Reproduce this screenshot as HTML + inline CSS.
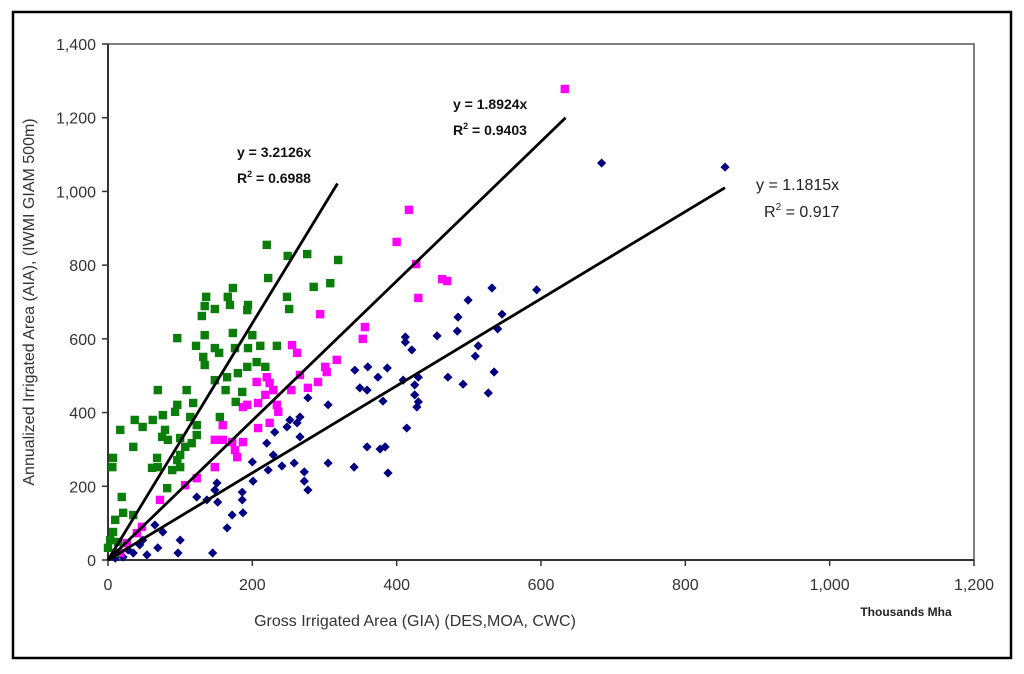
<!DOCTYPE html>
<html><head><meta charset="utf-8"><style>
html,body{margin:0;padding:0;background:#fff;}
svg{display:block;font-family:"Liberation Sans",Arial,sans-serif;}
</style></head><body>
<svg id="chart" width="1024" height="674" viewBox="0 0 1024 674">
<rect x="13" y="12" width="998" height="646" fill="#fff" stroke="#000" stroke-width="2.5"/>
<g id="grid"></g>
<g id="marks"></g>
<g id="lines"></g>
<text x="34" y="302" transform="rotate(-90 34 302)" text-anchor="middle" font-size="16" fill="#333">Annualized Irrigated Area (AIA), (IWMI GIAM 500m)</text>
<text x="415" y="626" text-anchor="middle" font-size="16" fill="#333">Gross Irrigated Area (GIA) (DES,MOA, CWC)</text>
<text x="906" y="616" text-anchor="middle" font-size="12" font-weight="bold" fill="#222">Thousands Mha</text>
<g font-size="14" font-weight="bold" fill="#111">
<text x="237" y="157">y = 3.2126x</text>
<text x="237" y="183">R<tspan font-size="9" dy="-6">2</tspan><tspan dy="6"> = 0.6988</tspan></text>
</g>
<g font-size="14" font-weight="bold" fill="#111">
<text x="453" y="109">y = 1.8924x</text>
<text x="453" y="135">R<tspan font-size="9" dy="-6">2</tspan><tspan dy="6"> = 0.9403</tspan></text>
</g>
<g font-size="16" fill="#222">
<text x="756" y="190">y = 1.1815x</text>
<text x="764" y="217">R<tspan font-size="10" dy="-7">2</tspan><tspan dy="7"> = 0.917</tspan></text>
</g>
</svg>
<script>
const xTicks=[0,200,400,600,800,1000,1200];
const yTicks=[0,200,400,600,800,1000,1200,1400];
const xTickLabels=["0","200","400","600","800","1,000","1,200"];
const yTickLabels=["0","200","400","600","800","1,000","1,200","1,400"];
const slopes=[3.2126,1.8924,1.1815];
const lineEnds=[318,634,855];
const blueX=[855,684,532,594,499,485,546,484,540,456,412,412,421,513,509,535,527,387,342,360,374,409,430,425,471,492,349,359,381,425,430,428,277,305,414,359,377,384,305,341,388,266,252,248,262,266,231,220,229,200,222,241,258,272,272,277,201,186,186,187,172,151,148,123,137,152,165,100,69,97,145,65,76,44,54,35,21,48,10,17,28];
const blueY=[1066,1077,738,733,705,659,667,621,627,608,605,591,570,581,553,510,453,521,515,524,496,488,496,475,496,477,467,461,431,448,429,415,440,421,358,307,301,307,263,252,236,388,380,361,372,334,347,317,285,266,244,255,263,239,214,190,214,184,163,128,122,209,190,171,163,157,87,54,33,19,19,95,76,41,14,19,8,54,5,22,27];
const magX=[633,417,400,427,463,470,430,294,356,353,255,262,317,301,303,291,277,266,254,206,220,224,229,218,208,193,187,234,236,224,208,159,148,159,172,187,176,179,148,123,107,72,47,40,26,17];
const magY=[1278,950,863,803,762,757,711,667,632,600,583,562,543,524,510,483,467,502,461,483,496,480,461,448,426,421,415,421,402,372,358,366,326,326,320,320,298,279,252,222,203,163,90,73,46,19];
const greenX=[220,249,276,319,222,285,308,248,251,173,166,169,136,134,148,130,193,194,96,134,122,173,200,148,154,132,134,176,194,211,234,206,218,193,180,148,165,163,186,177,69,109,118,96,93,114,123,123,155,76,62,37,48,17,35,79,83,75,100,107,116,100,96,68,61,69,89,100,82,7,6,19,21,35,10,7,3,14,0,10];
const greenY=[855,825,830,814,765,741,751,714,681,738,714,692,714,689,681,662,678,692,602,610,581,616,610,575,562,551,529,575,575,581,581,537,524,524,507,488,496,461,456,429,461,461,426,421,402,388,366,339,388,393,380,380,361,353,307,353,326,334,331,307,317,285,271,277,250,252,244,252,195,277,252,171,128,122,109,76,54,49,33,19];

const X0=108,X1=974,Y0=560,Y1=44;
const sx=v=>X0+(v-0)/1200*(X1-X0);
const sy=v=>Y0-(v-0)/1400*(Y0-Y1);
const NS="http://www.w3.org/2000/svg";
function mk(tag,attrs,parent){const e=document.createElementNS(NS,tag);for(const k in attrs)e.setAttribute(k,attrs[k]);parent.appendChild(e);return e;}
const grid=document.getElementById('grid'),marks=document.getElementById('marks'),lines=document.getElementById('lines');

const frame=mk('rect',{x:X0,y:Y1,width:X1-X0,height:Y0-Y1,fill:'none',stroke:'#555','stroke-width':1.5},grid);


const xa=mk('line',{x1:X0,y1:Y0,x2:X1,y2:Y0,stroke:'#333','stroke-width':2},grid);


const ya=mk('line',{x1:X0,y1:Y0,x2:X0,y2:Y1,stroke:'#333','stroke-width':2},grid);



xTicks.forEach((v,i)=>{
  const t=mk('line',{x1:sx(v),y1:Y0,x2:sx(v),y2:Y0+6,stroke:'#333','stroke-width':1.5},grid);
  
  
  const l=mk('text',{x:sx(v),y:Y0+30,'text-anchor':'middle','font-size':16,fill:'#333'},grid);
  l.textContent=xTickLabels[i];
  
  
});
yTicks.forEach((v,i)=>{
  const t=mk('line',{x1:X0-6,y1:sy(v),x2:X0,y2:sy(v),stroke:'#333','stroke-width':1.5},grid);
  
  
  const l=mk('text',{x:X0-12,y:sy(v)+6,'text-anchor':'end','font-size':16,fill:'#333'},grid);
  l.textContent=yTickLabels[i];
  
  
});

blueX.forEach((v,i)=>{
  const cx=sx(v),cy=sy(blueY[i]),r=4.6;
  const p=mk('polygon',{points:`${cx},${cy-r} ${cx+r},${cy} ${cx},${cy+r} ${cx-r},${cy}`,fill:'#000080'},marks);
  
  
});
magX.forEach((v,i)=>{
  const s=mk('rect',{x:sx(v)-4.2,y:sy(magY[i])-4.2,width:8.4,height:8.4,fill:'#ff00ff'},marks);
  
  
});
greenX.forEach((v,i)=>{
  const s=mk('rect',{x:sx(v)-4.2,y:sy(greenY[i])-4.2,width:8.4,height:8.4,fill:'#0a7d0a'},marks);
  
  
});
const lineNames=['trendline-green','trendline-magenta','trendline-blue'];
slopes.forEach((m,i)=>{
  const l=mk('line',{x1:sx(0),y1:sy(0),x2:sx(lineEnds[i]),y2:sy(m*lineEnds[i]),stroke:'#000','stroke-width':2.8},lines);
  
  
});
</script>
</body></html>
